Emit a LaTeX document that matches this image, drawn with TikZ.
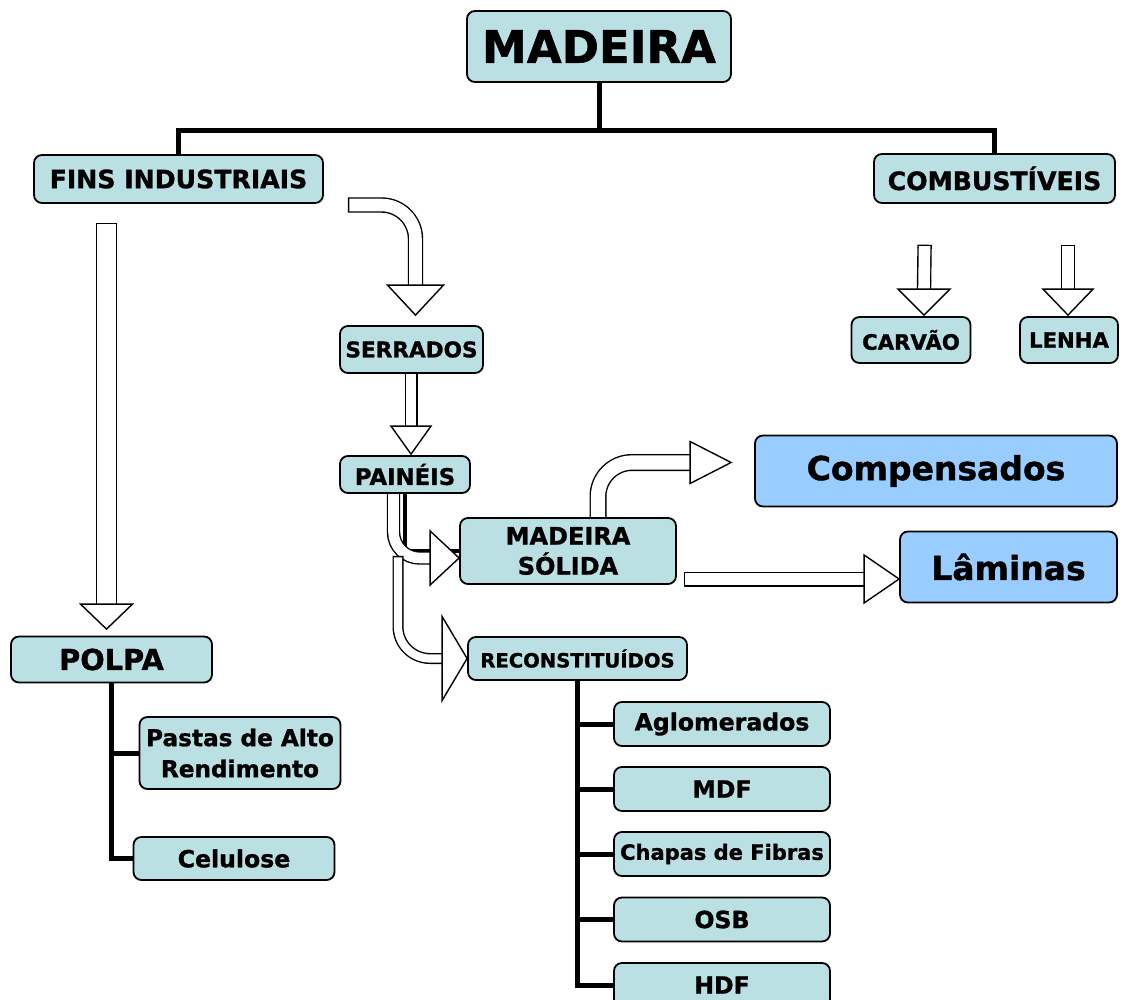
\documentclass[tikz,border=0pt]{standalone}
\usepackage{fontspec}
\setmainfont[BoldFeatures={FakeBold=1.2}]{DejaVu Sans}
\usetikzlibrary{calc,backgrounds}
\definecolor{lightteal}{RGB}{187,224,227}
\definecolor{lightblue}{RGB}{153,204,255}
\newcommand{\headdown}[3]{%
    \filldraw[hollowhead] (#1) -- ++(-#3,-#2) -- ++(2*#3,0) -- cycle;
}
\newcommand{\headright}[3]{%
    \filldraw[hollowhead] (#1) -- ++(-#2,-#3) -- ++(0,2*#3) -- cycle;
}
\begin{document}
\begin{tikzpicture}[x=0.5pt,y=0.5pt,yscale=-1,
    box/.style={draw, fill=lightteal, line width=0.9pt, rounded corners=4pt, inner sep=0pt, align=center},
    bigbox/.style={box, fill=lightblue},
    fsz/.style={font=\bfseries\fontsize{#1}{#1}\selectfont},
    tree/.style={line width=2.5pt},
    hollowshaft/.style={draw=black, line width=0.7pt, double=white, double distance=#1, line cap=rect},
    hollowhead/.style={draw=black, fill=white, line width=0.7pt, line join=miter}]
    \useasboundingbox (0,0) rectangle (1136,1000);

    % Text Node
    \node[box, fsz=22.5, minimum width=132pt, minimum height=35.5pt] (madeira) at (599,46.5) {MADEIRA};
    % Text Node
    \node[box, fsz=12.6, minimum width=144.5pt, minimum height=24pt] (fins) at (178.5,179) {FINS INDUSTRIAIS};
    % Text Node
    \node[box, fsz=12.6, minimum width=120.5pt, minimum height=24.5pt] (comb) at (994.5,178.5) {COMBUSTÍVEIS};
    % Text Node
    \node[box, fsz=10.8, minimum width=71.5pt, minimum height=23.5pt] (serrados) at (411.5,349.5) {SERRADOS};
    % Text Node
    \node[box, fsz=11.4, minimum width=65pt, minimum height=18.5pt] (paineis) at (405,474.5) {PAINÉIS};
    % Text Node
    \node[box, font=\bfseries\fontsize{12}{15}\selectfont, minimum width=108pt, minimum height=33pt] (solida) at (568,551) {MADEIRA\\SÓLIDA};
    % Text Node
    \node[box, fsz=9.8, minimum width=109.5pt, minimum height=21.5pt] (recon) at (577.5,658.5) {RECONSTITUÍDOS};
    % Text Node
    \node[bigbox, fsz=16.5, minimum width=181pt, minimum height=35.5pt] (compens) at (936,471) {Compensados};
    % Text Node
    \node[bigbox, fsz=16.5, minimum width=108.5pt, minimum height=35.5pt] (laminas) at (1008.5,567) {Lâminas};
    % Text Node
    \node[box, fsz=10.6, minimum width=59.5pt, minimum height=23pt] (carvao) at (911,340) {CARVÃO};
    % Text Node
    \node[box, fsz=10.6, minimum width=49pt, minimum height=23pt] (lenha) at (1069,340) {LENHA};
    % Text Node
    \node[box, fsz=14.4, minimum width=100.5pt, minimum height=23pt] (polpa) at (111.5,659.5) {POLPA};
    % Text Node
    \node[box, font=\bfseries\fontsize{11.6}{15.5}\selectfont, minimum width=100.5pt, minimum height=36pt] (pastas) at (240,753) {Pastas de Alto\\Rendimento};
    % Text Node
    \node[box, fsz=11.8, minimum width=100.5pt, minimum height=21.5pt] (celulose) at (234,858.5) {Celulose};
    % Text Nodes
    \foreach \nm/\txt/\yy/\sz in {aglom/Aglomerados/724/11.8, mdf/MDF/789/11.8, chapas/Chapas de Fibras/854/10.5, osb/OSB/919.5/11.8, hdf/HDF/985/11.8}
        \node[box, fsz=\sz, minimum width=108pt, minimum height=22pt] (\nm) at (722,\yy) {\txt};

    \begin{pgfonlayer}{background}
        \fill[white] (0,0) rectangle (1136,1000);
        % tree lines
        \draw[tree] (madeira.south) -- ++(0,48) coordinate (hub);
        \draw[tree] (hub) -| (fins.north);
        \draw[tree] (hub) -| (comb.north);
        \draw[tree] (polpa.south) |- (celulose.west);
        \draw[tree] (polpa.south |- pastas.west) -- (pastas.west);
        \draw[tree] (recon.south) |- (hdf.west);
        \foreach \nm in {aglom,mdf,chapas,osb}
            \draw[tree] (recon.south |- \nm.west) -- (\nm.west);
        \draw[line width=2.2pt] (paineis.south) |- (solida.west);

        % hollow arrows
        \coordinate (a1s) at ($(fins.south)+(-72,29.5)$);
        \coordinate (a1t) at ($(polpa.north)+(-5,-6.5)$);
        \draw[hollowshaft=9.1pt] (a1s) -- ($(a1t)+(0,-25)$);
        \headdown{a1t}{25}{26}

        \coordinate (a2s) at ($(fins.east)+(31.75,26)$);
        \coordinate (a2t) at ($(serrados.north)+(4,-10)$);
        \draw[hollowshaft=6.3pt, rounded corners=17pt] (a2s) -| ($(a2t)+(0,-30)$);
        \headdown{a2t}{30}{28}

        \coordinate (a3t) at ($(paineis.north)+(6,-1)$);
        \draw[hollowshaft=5.1pt] (serrados.south -| a3t) -- ($(a3t)+(0,-28)$);
        \headdown{a3t}{28}{20}

        \coordinate (a4s) at ($(paineis.south)+(-11.5,0)$);
        \coordinate (a4t) at ($(solida.west)+(0,7)$);
        \draw[hollowshaft=5.3pt, rounded corners=13pt] (a4s) |- ($(a4t)+(-29,0)$);
        \headright{a4t}{29}{27}

        \coordinate (a5s) at ($(paineis.south)+(-7,67.5)$);
        \coordinate (a5t) at (recon.west);
        \draw[hollowshaft=4.1pt, rounded corners=16pt] (a5s) |- ($(a5t)+(-25,0)$);
        \headright{a5t}{25}{42}

        \coordinate (a6s) at ($(solida.north)+(30,0)$);
        \coordinate (a6t) at ($(compens.west)+(-23,-8.5)$);
        \draw[hollowshaft=7.1pt, rounded corners=17pt] (a6s) |- ($(a6t)+(-41,0)$);
        \headright{a6t}{41}{21}

        \coordinate (a7s) at ($(solida.east)+(14.5,28)$);
        \coordinate (a7t) at ($(laminas.west)+(0,12)$);
        \draw[hollowshaft=6.1pt] (a7s) -- ($(a7t)+(-35,0)$);
        \headright{a7t}{35}{24}

        \coordinate (a8s) at ($(comb.south)+(-70,48)$);
        \coordinate (a8t) at ($(carvao.north)+(13,-1)$);
        \draw[hollowshaft=5.8pt] (a8s) -- ($(a8t)+(0,-26)$);
        \headdown{a8t}{26}{26}

        \coordinate (a9s) at ($(comb.south)+(73.5,48)$);
        \coordinate (a9t) at ($(lenha.north)+(-1,-1)$);
        \draw[hollowshaft=5.8pt] (a9s) -- ($(a9t)+(0,-26)$);
        \headdown{a9t}{26}{25}
    \end{pgfonlayer}
\end{tikzpicture}
\end{document}
